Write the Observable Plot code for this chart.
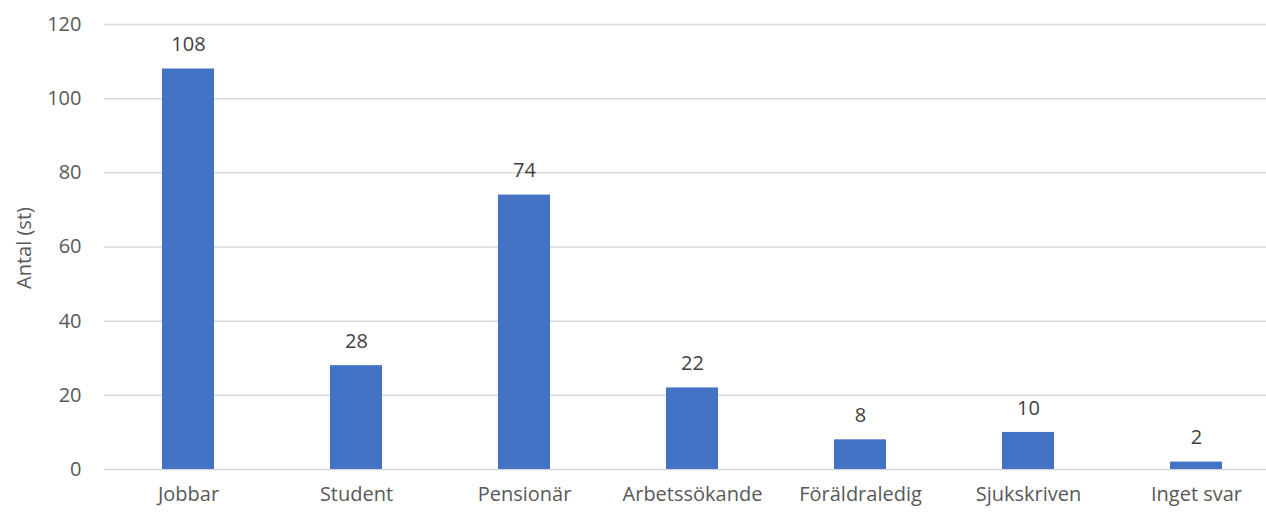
<!DOCTYPE html>
<html><head><meta charset="utf-8">
<script src="https://cdn.jsdelivr.net/npm/d3@7"></script>
<script src="https://cdn.jsdelivr.net/npm/@observablehq/plot@0.6"></script>
<style>body{margin:0;background:#fff;font-family:"Open Sans",sans-serif;}</style>
</head><body><div id="chart"></div>
<script>
const categories = ["Jobbar","Student","Pensionär","Arbetssökande","Föräldraledig","Sjukskriven","Inget svar"];
const values = [108,28,74,22,8,10,2];
const yTicks = [0,20,40,60,80,100,120];
const yLabel = "Antal (st)";
const data = categories.map((c,i)=>({cat:c, v:values[i]}));
const FS = 20;
const chart = Plot.plot({
  width:1266, height:513,
  marginLeft:104, marginRight:0, marginTop:24, marginBottom:44,
  style:{fontFamily:"Open Sans, sans-serif", fontSize:FS+"px", color:"#595959", background:"#fff"},
  x:{domain:categories, range:[104,1280], paddingInner:0.69, paddingOuter:0.345, label:null},
  y:{domain:[0,120], ticks:yTicks, label:null},
  marks:[
    Plot.ruleY(yTicks,{stroke:"#d9d9d9", strokeWidth:1.5}),
    Plot.barY(data,{x:"cat", y:"v", fill:"#4472c4"}),
    Plot.text(data,{x:"cat", y:"v", text:d=>String(d.v), dy:-24, fill:"#404040", fontSize:FS}),
    Plot.axisX({tickSize:0, tickPadding:17, fill:"#595959", fontSize:FS}),
    Plot.axisY({ticks:yTicks, tickSize:0, tickPadding:23, fill:"#595959", fontSize:FS}),
    Plot.text([yLabel],{frameAnchor:"left", textAnchor:"middle", dx:-80, dy:1, rotate:-90, fill:"#595959", fontSize:FS})
  ]
});
document.getElementById("chart").appendChild(chart);
</script></body></html>
